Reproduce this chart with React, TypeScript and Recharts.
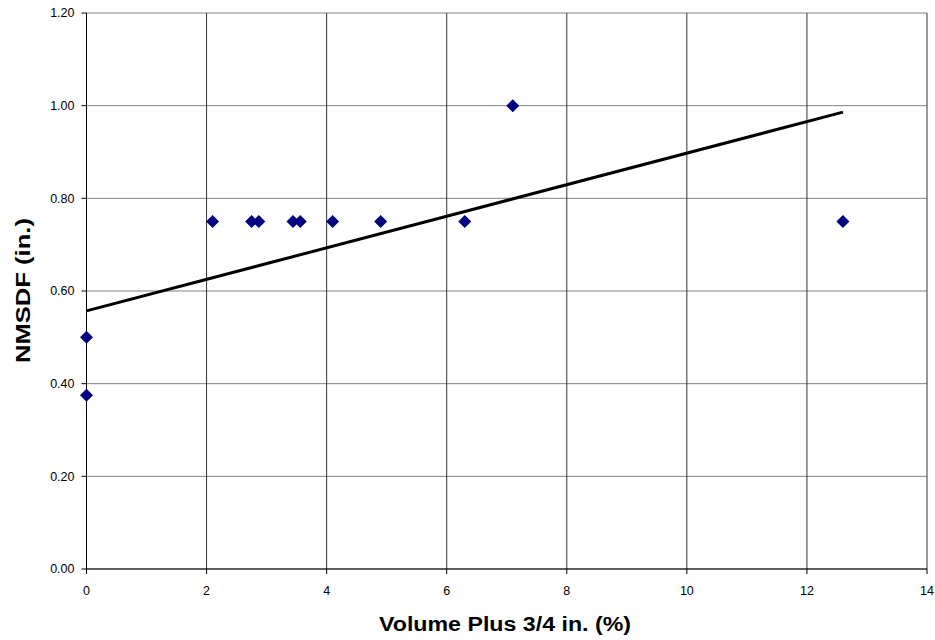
import React from 'react';
import { ScatterChart, Scatter, XAxis, YAxis, CartesianGrid } from 'recharts';

// measured points
const volumePlus34 = [0, 0, 2.1, 2.75, 2.87, 3.44, 3.56, 4.1, 4.9, 6.3, 7.1, 12.6];
const nmsdf = [0.375, 0.5, 0.75, 0.75, 0.75, 0.75, 0.75, 0.75, 0.75, 0.75, 1.0, 0.75];

// linear trend line end points
const trendX = [0, 12.6];
const trendY = [0.557, 0.986];

const xTicks = [0, 2, 4, 6, 8, 10, 12, 14];
const yTicks = [0, 0.2, 0.4, 0.6, 0.8, 1.0, 1.2];

const points = volumePlus34.map((x, i) => ({ x, y: nmsdf[i] }));
const trend = trendX.map((x, i) => ({ x, y: trendY[i] }));

const font = 'Arial, "Liberation Sans", sans-serif';

const Diamond = (props: any) => {
  const { cx, cy } = props;
  const r = 6.5;
  return (
    <path
      d={`M${cx},${cy - r}L${cx + r},${cy}L${cx},${cy + r}L${cx - r},${cy}Z`}
      fill="#000080"
    />
  );
};

const XTitle = () => (
  <text
    x={505}
    y={631}
    textAnchor="middle"
    fontFamily={font}
    fontWeight="bold"
    fontSize={20}
    textLength={252}
    lengthAdjust="spacingAndGlyphs"
    fill="#000"
  >
    Volume Plus 3/4 in. (%)
  </text>
);

const YTitle = () => (
  <text
    x={0}
    y={0}
    transform="translate(30,290.5) rotate(-90)"
    textAnchor="middle"
    fontFamily={font}
    fontWeight="bold"
    fontSize={20}
    textLength={145}
    lengthAdjust="spacingAndGlyphs"
    fill="#000"
  >
    NMSDF (in.)
  </text>
);

const App: React.FC = () => {
  return (
    <div style={{ position: 'absolute', left: 0, top: 0, width: 935, height: 640, background: '#fff' }}>
      <ScatterChart
        width={935}
        height={640}
        margin={{ top: 13, right: 8, bottom: 31, left: 26.5 }}
      >
        <CartesianGrid vertical={false} stroke="#808080" strokeWidth={1} />
        <CartesianGrid horizontal={false} stroke="#333" strokeWidth={1} />
        <XAxis
          type="number"
          dataKey="x"
          domain={[0, 14]}
          ticks={xTicks}
          height={40}
          tickSize={5}
          tickMargin={12}
          axisLine={{ stroke: '#000' }}
          tickLine={{ stroke: '#000' }}
          tick={{ fill: '#000', fontSize: 12.5, fontFamily: font }}
          label={{ content: () => <XTitle /> }}
        />
        <YAxis
          type="number"
          dataKey="y"
          domain={[0, 1.2]}
          ticks={yTicks}
          width={60}
          tickSize={5}
          tickMargin={7}
          tickFormatter={(v: number) => v.toFixed(2)}
          axisLine={{ stroke: '#000' }}
          tickLine={{ stroke: '#000' }}
          tick={{ fill: '#000', fontSize: 12.5, fontFamily: font }}
          label={{ content: () => <YTitle /> }}
        />
        <Scatter
          data={trend}
          line={{ stroke: '#000', strokeWidth: 3 }}
          shape={() => <g />}
          isAnimationActive={false}
        />
        <Scatter data={points} shape={Diamond} isAnimationActive={false} />
      </ScatterChart>
    </div>
  );
};

export default App;
